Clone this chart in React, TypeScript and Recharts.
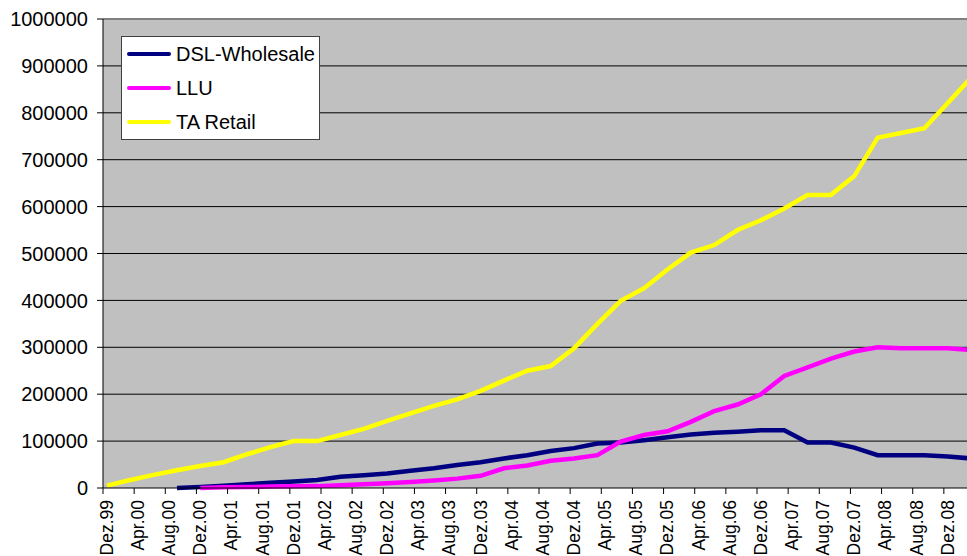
import React from "react";
import { LineChart, Line, XAxis, YAxis, CartesianGrid, ReferenceLine, Legend } from "recharts";

const monthNames = ["Jan", "Feb", "Mär", "Apr", "Mai", "Jun", "Jul", "Aug", "Sep", "Okt", "Nov", "Dez"];

// quarter ends the series were reported at
const quarters = [
  "Dez.99", "Mär.00", "Jun.00", "Sep.00", "Dez.00", "Mär.01", "Jun.01", "Sep.01", "Dez.01", "Mär.02",
  "Jun.02", "Sep.02", "Dez.02", "Mär.03", "Jun.03", "Sep.03", "Dez.03", "Mär.04", "Jun.04", "Sep.04",
  "Dez.04", "Mär.05", "Jun.05", "Sep.05", "Dez.05", "Mär.06", "Jun.06", "Sep.06", "Dez.06", "Mär.07",
  "Jun.07", "Sep.07", "Dez.07", "Mär.08", "Jun.08", "Sep.08", "Dez.08", "Mär.09",
];

const dslWholesale = [
  null, null, null, 0, 2000, 5000, 8000, 11000, 14000, 17000,
  24000, 27000, 31000, 37000, 42000, 49000, 55000, 63000, 70000, 79000,
  85000, 95000, 97000, 102000, 108000, 114000, 118000, 120000, 123000, 123000,
  97000, 97000, 86000, 70000, 70000, 70000, 67000, 63000,
];

const llu = [
  null, null, null, null, 0, 1500, 2000, 3000, 3500, 4000,
  6000, 8000, 10000, 13000, 16000, 20000, 26000, 42000, 48000, 58000,
  63000, 70000, 99000, 113000, 121000, 141000, 164000, 178000, 200000, 239000,
  257000, 276000, 291000, 300000, 298000, 298000, 298000, 294000,
];

const taRetail = [
  5000, 17000, 28000, 38000, 47000, 55000, 72000, 87000, 100000, 100000,
  113000, 126000, 143000, 159000, 175000, 189000, 207000, 229000, 250000, 260000,
  298000, 350000, 399000, 426000, 466000, 502000, 518000, 550000, 571000, 596000,
  625000, 625000, 665000, 747000, 757000, 767000, 821000, 875000,
];

const yTicks = [0, 100000, 200000, 300000, 400000, 500000, 600000, 700000, 800000, 900000, 1000000];

// monthly category axis Dez.99 .. Mär.09, values only on quarter ends
const months: string[] = [];
for (let i = 0; i < 112; i++) {
  const k = 11 + i;
  const yr = (1999 + Math.floor(k / 12)) % 100;
  months.push(monthNames[k % 12] + "." + String(yr).padStart(2, "0"));
}

const data = months.map((month) => {
  const q = quarters.indexOf(month);
  if (q < 0) return { month };
  return { month, dsl: dslWholesale[q], llu: llu[q], ta: taRetail[q] };
});

const font = "'Liberation Sans', Arial, sans-serif";
const halfStep = 872 / 112 / 2;

const MonthTick = ({ x, y, payload }: any) => (
  <g>
    <line x1={x - halfStep} x2={x - halfStep} y1={y - 12} y2={y - 6} stroke="#000" />
    <text
      x={x}
      y={y}
      transform={`rotate(-90 ${x} ${y})`}
      textAnchor="end"
      dominantBaseline="central"
      fontSize={17.5}
      fontFamily={font}
      fill="#000"
    >
      {payload.value}
    </text>
  </g>
);

const legendItems = [
  { name: "DSL-Wholesale", color: "#000080" },
  { name: "LLU", color: "#ff00ff" },
  { name: "TA Retail", color: "#ffff00" },
];

const LegendBox = () => (
  <div
    style={{
      width: 199,
      height: 104,
      boxSizing: "border-box",
      background: "#fff",
      border: "1px solid #404040",
      fontFamily: font,
      fontSize: 20,
      color: "#000",
    }}
  >
    {legendItems.map((it) => (
      <div key={it.name} style={{ height: 34, display: "flex", alignItems: "center" }}>
        <span style={{ display: "inline-block", width: 44, height: 4, marginLeft: 5, background: it.color, borderRadius: 2 }} />
        <span style={{ marginLeft: 5 }}>{it.name}</span>
      </div>
    ))}
  </div>
);

export default function App() {
  return (
    <div style={{ position: "absolute", left: 0, top: 0, width: 967, height: 556, overflow: "hidden", background: "#fff", fontFamily: font }}>
      <LineChart width={975} height={556} data={data} margin={{ top: 19, right: 0, bottom: 0, left: 0 }}>
        <CartesianGrid
          vertical={false}
          horizontalValues={[100000, 200000, 300000, 400000, 500000, 600000, 700000, 800000, 900000]}
          stroke="#000"
          fill="#c0c0c0"
          fillOpacity={1}
        />
        <ReferenceLine y={1000000} stroke="#808080" strokeWidth={2} />
        <XAxis
          dataKey="month"
          interval={3}
          height={68}
          padding={{ left: halfStep, right: halfStep }}
          tickLine={false}
          tickSize={6}
          tickMargin={6}
          axisLine={{ stroke: "#000" }}
          tick={<MonthTick />}
        />
        <YAxis
          type="number"
          domain={[0, 1000000]}
          ticks={yTicks}
          interval={0}
          width={103}
          tickSize={6}
          tickMargin={9}
          axisLine={{ stroke: "#000" }}
          tickLine={{ stroke: "#000" }}
          tick={{ fontSize: 20, fill: "#000", fontFamily: font }}
        />
        <Legend
          layout="vertical"
          align="center"
          verticalAlign="middle"
          content={<LegendBox />}
          wrapperStyle={{ left: 121, top: 36, width: 199, height: 104 }}
        />
        <Line type="linear" dataKey="dsl" name="DSL-Wholesale" stroke="#000080" strokeWidth={4.5} dot={false} connectNulls isAnimationActive={false} />
        <Line type="linear" dataKey="llu" name="LLU" stroke="#ff00ff" strokeWidth={4.5} dot={false} connectNulls isAnimationActive={false} />
        <Line type="linear" dataKey="ta" name="TA Retail" stroke="#ffff00" strokeWidth={4.5} dot={false} connectNulls isAnimationActive={false} />
      </LineChart>
    </div>
  );
}
